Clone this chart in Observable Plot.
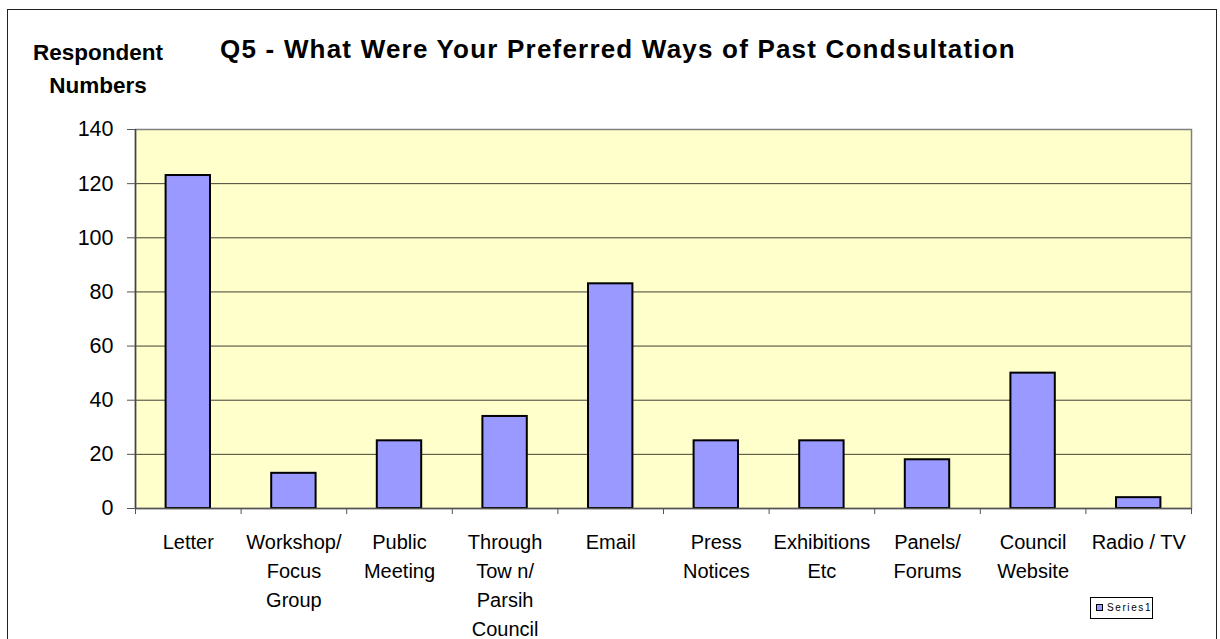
<!DOCTYPE html>
<html>
<head>
<meta charset="utf-8">
<script src="https://cdn.jsdelivr.net/npm/d3@7"></script>
<script src="https://cdn.jsdelivr.net/npm/@observablehq/plot@0.6"></script>
<style>
  html, body { margin: 0; padding: 0; background: #fff; }
  body { width: 1220px; height: 639px; overflow: hidden; position: relative; font-family: "Liberation Sans", Arial, sans-serif; }
  #border { position: absolute; left: 7px; top: 9px; width: 1210px; height: 700px; border: 1.5px solid #222; box-sizing: border-box; }
  #chart { position: absolute; left: 0; top: 0; }
  #title { position: absolute; left: 0; width: 1236px; top: 34px; text-align: center; font-weight: bold; font-size: 26px; letter-spacing: 1.2px; color: #000; white-space: nowrap; }
  #ytitle { position: absolute; left: 28px; width: 140px; top: 36px; text-align: center; font-weight: bold; font-size: 22.5px; line-height: 33px; color: #000; }
  #legend { position: absolute; left: 1090px; top: 597px; width: 63px; height: 22px; box-sizing: border-box; border: 1px solid #000; background: #fff; }
  #legend .sw { position: absolute; left: 5px; top: 6px; width: 7px; height: 7px; background: #9999FF; border: 1.5px solid #000; box-sizing: border-box; }
  #legend .lb { position: absolute; left: 16px; top: 4px; font-size: 10px; letter-spacing: 1.6px; color: #000; line-height: 12px; }
</style>
</head>
<body>
<div id="border"></div>
<div id="chart"></div>
<div id="title">Q5 - What Were Your Preferred Ways of Past Condsultation</div>
<div id="ytitle">Respondent<br>Numbers</div>
<div id="legend"><div class="sw"></div><div class="lb">Series1</div></div>
<script>
const categories = [
  "Letter",
  "Workshop/\nFocus\nGroup",
  "Public\nMeeting",
  "Through\nTow n/\nParsih\nCouncil",
  "Email",
  "Press\nNotices",
  "Exhibitions\nEtc",
  "Panels/\nForums",
  "Council\nWebsite",
  "Radio / TV"
];
const values = [123, 13, 25, 34, 83, 25, 25, 18, 50, 4];
const yTicks = [0, 20, 40, 60, 80, 100, 120, 140];
const seriesName = "Series1";

const data = categories.map((c, i) => ({i, label: c, value: values[i]}));
const boundaries = d3.range(categories.length + 1).map(k => k - 0.5);
const gridLines = yTicks.filter(t => t > 0 && t < 140);

const chart = Plot.plot({
  width: 1220,
  height: 639,
  marginLeft: 135,
  marginRight: 29,
  marginTop: 129,
  marginBottom: 131,
  style: {fontFamily: "'Liberation Sans', Arial, sans-serif", color: "#000", background: "transparent"},
  x: {type: "linear", domain: [-0.5, categories.length - 0.5]},
  y: {domain: [0, 140]},
  marks: [
    Plot.frame({fill: "#FFFFCC", stroke: null}),
    Plot.ruleY(gridLines, {stroke: "#000", strokeWidth: 1, strokeOpacity: 0.75}),
    Plot.frame({stroke: "#808080", strokeWidth: 1.5}),
    Plot.rectY(data, {x1: d => d.i - 0.5, x2: d => d.i + 0.5, y: "value", insetLeft: 30.6, insetRight: 30.6, fill: "#9999FF", stroke: "#000", strokeWidth: 2}),
    Plot.ruleY([0], {stroke: "#555", strokeWidth: 1.5}),
    Plot.ruleX([-0.5], {stroke: "#444", strokeWidth: 1.5}),
    Plot.axisY({ticks: yTicks, tickSize: 8, tickPadding: 14, fontSize: 21.5, label: null, stroke: "#555"}),
    Plot.axisX({ticks: boundaries, tickSize: 6, tickFormat: () => "", label: null, stroke: "#555"}),
    Plot.text(data, {x: "i", text: "label", frameAnchor: "bottom", dy: 20, lineAnchor: "top", lineHeight: 1.45, fontSize: 20, fill: "#000"})
  ]
});
document.getElementById("chart").appendChild(chart);
document.querySelector("#legend .lb").textContent = seriesName;
</script>
</body>
</html>
